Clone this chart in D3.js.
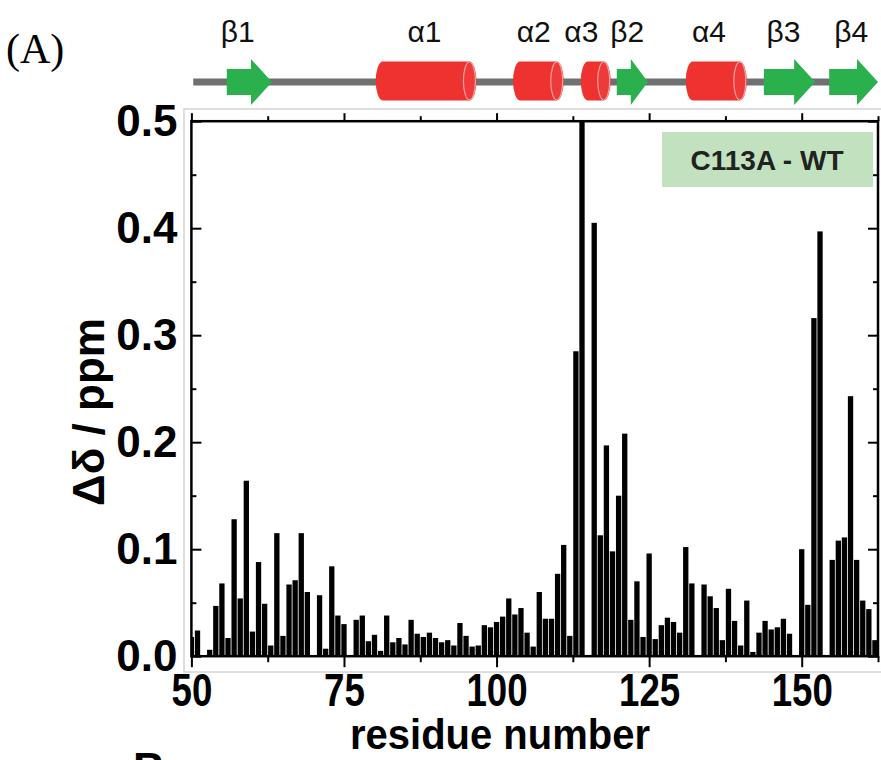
<!DOCTYPE html>
<html>
<head>
<meta charset="utf-8">
<script src="https://cdn.jsdelivr.net/npm/d3@7"></script>
<style>
  body { margin: 0; background: #fff; }
  svg { display: block; }
</style>
</head>
<body>
<div id="chart"></div>
<script>
// residue numbers and chemical shift differences (ppm), C113A - WT
const residues = d3.range(50, 163);
const shifts = [
  0.018, 0.024, 0.0, 0.006, 0.047, 0.068, 0.017, 0.128, 0.054, 0.164, // 50-59
  0.023, 0.088, 0.049, 0.010, 0.115, 0.019, 0.067, 0.071, 0.115, 0.060, // 60-69
  0.0, 0.057, 0.007, 0.084, 0.038, 0.030, 0.0, 0.034, 0.038, 0.014,     // 70-79
  0.020, 0.005, 0.038, 0.013, 0.017, 0.011, 0.034, 0.021, 0.018, 0.022, // 80-89
  0.017, 0.013, 0.015, 0.010, 0.031, 0.019, 0.009, 0.010, 0.029, 0.027, // 90-99
  0.032, 0.037, 0.054, 0.039, 0.045, 0.022, 0.009, 0.060, 0.035, 0.035, // 100-109
  0.077, 0.104, 0.019, 0.285, 0.52, 0.0, 0.405, 0.113, 0.197, 0.098,    // 110-119
  0.150, 0.208, 0.034, 0.070, 0.018, 0.096, 0.016, 0.029, 0.036, 0.032, // 120-129
  0.022, 0.102, 0.068, 0.0, 0.067, 0.056, 0.045, 0.015, 0.063, 0.033,   // 130-139
  0.010, 0.052, 0.004, 0.022, 0.033, 0.025, 0.027, 0.035, 0.021, 0.0,   // 140-149
  0.100, 0.048, 0.316, 0.397, 0.0, 0.090, 0.108, 0.111, 0.243, 0.090,   // 150-159
  0.052, 0.044, 0.015                                                   // 160-162
];

// secondary structure (residue ranges)
const ssNames = ["β1", "α1", "α2", "α3", "β2", "α4", "β3", "β4"];
const ssTypes = ["strand", "helix", "helix", "helix", "strand", "helix", "strand", "strand"];
const ssStart = [55.8, 80.2, 102.7, 113.8, 119.7, 131.0, 143.8, 154.5];
const ssEnd = [63.2, 96.7, 111.0, 118.7, 124.8, 141.0, 152.2, 162.5];
const ssLabelAt = [57.6, 88.2, 106.1, 113.9, 121.4, 134.8, 147.0, 158.1];

const xMajor = [50, 75, 100, 125, 150];
const xMinor = [62.5, 87.5, 112.5, 137.5, 162.5];
const yMajor = [0, 0.1, 0.2, 0.3, 0.4, 0.5];
const yMinor = [0.05, 0.15, 0.25, 0.35, 0.45];

const width = 881;
const height = 760;
const plot = { left: 191.4, right: 878, top: 121.2, bottom: 656.2 };
const boldFont = "'Liberation Sans', Arial, Helvetica, sans-serif";

const x = d3.scaleLinear().domain([50, 162.5]).range([plot.left, plot.right]);
const y = d3.scaleLinear().domain([0, 0.5]).range([plot.bottom, plot.top]);

const svg = d3
  .select("#chart")
  .append("svg")
  .attr("width", width)
  .attr("height", height)
  .style("font-family", boldFont);

// faint panel border
svg
  .append("rect")
  .attr("x", 184)
  .attr("y", 109)
  .attr("width", 720)
  .attr("height", 563)
  .attr("fill", "none")
  .attr("stroke", "#d4d4d4")
  .attr("stroke-width", 1.5);

svg
  .append("clipPath")
  .attr("id", "clip")
  .append("rect")
  .attr("x", plot.left)
  .attr("y", plot.top)
  .attr("width", plot.right - plot.left)
  .attr("height", plot.bottom - plot.top);

// bars
const barW = (x(1) - x(0)) * 0.87;
svg
  .append("g")
  .attr("clip-path", "url(#clip)")
  .selectAll("rect")
  .data(residues.map((r, i) => ({ r, v: shifts[i] })))
  .join("rect")
  .attr("x", (d) => x(d.r) - barW / 2)
  .attr("y", (d) => y(d.v))
  .attr("width", barW)
  .attr("height", (d) => y(0) - y(d.v))
  .attr("fill", "#000");

// axes
const axisStyle = (g) => {
  g.select(".domain").remove();
  g.selectAll("line").attr("stroke", "#000").attr("stroke-width", 2);
  g.selectAll("text")
    .attr("fill", "#000")
    .style("font-family", boldFont)
    .style("font-weight", "bold");
};

svg
  .append("g")
  .attr("transform", `translate(0,${plot.bottom})`)
  .call(d3.axisBottom(x).tickValues(xMajor).tickSize(11).tickPadding(5).tickFormat(d3.format("d")))
  .call(axisStyle)
  .call((g) =>
    g.selectAll("text").style("font-size", "47px").attr("transform", "scale(0.78,1)")
  );
svg
  .append("g")
  .attr("transform", `translate(0,${plot.bottom})`)
  .call(d3.axisBottom(x).tickValues(xMinor).tickSize(6).tickFormat(""))
  .call(axisStyle);

// top ticks (outward)
svg
  .append("g")
  .attr("transform", `translate(0,${plot.top})`)
  .call(d3.axisTop(x).tickValues(xMajor).tickSize(8).tickFormat(""))
  .call(axisStyle);
svg
  .append("g")
  .attr("transform", `translate(0,${plot.top})`)
  .call(d3.axisTop(x).tickValues(xMinor).tickSize(5).tickFormat(""))
  .call(axisStyle);

svg
  .append("g")
  .attr("transform", `translate(${plot.left},0)`)
  .call(d3.axisLeft(y).tickValues(yMajor).tickSize(-10).tickPadding(14).tickFormat(d3.format(".1f")))
  .call(axisStyle)
  .call((g) => g.selectAll("text").style("font-size", "44px"));
svg
  .append("g")
  .attr("transform", `translate(${plot.left},0)`)
  .call(d3.axisLeft(y).tickValues(yMinor).tickSize(-5).tickFormat(""))
  .call(axisStyle);

svg
  .append("g")
  .attr("transform", `translate(${plot.right},0)`)
  .call(d3.axisRight(y).tickValues(yMajor).tickSize(-10).tickFormat(""))
  .call(axisStyle);
svg
  .append("g")
  .attr("transform", `translate(${plot.right},0)`)
  .call(d3.axisRight(y).tickValues(yMinor).tickSize(-5).tickFormat(""))
  .call(axisStyle);

// frame
svg
  .append("rect")
  .attr("x", plot.left)
  .attr("y", plot.top)
  .attr("width", plot.right - plot.left)
  .attr("height", plot.bottom - plot.top)
  .attr("fill", "none")
  .attr("stroke", "#000")
  .attr("stroke-width", 2.5);

// axis titles
svg
  .append("text")
  .attr("transform", "translate(500,749) scale(0.93,1)")
  .attr("text-anchor", "middle")
  .style("font-size", "43px")
  .style("font-weight", "bold")
  .text("residue number");

svg
  .append("text")
  .attr("transform", "translate(104,412) rotate(-90)")
  .attr("text-anchor", "middle")
  .style("font-size", "44px")
  .style("font-weight", "bold")
  .text("Δδ / ppm");

// legend box
svg
  .append("rect")
  .attr("x", 662)
  .attr("y", 132)
  .attr("width", 211)
  .attr("height", 55)
  .attr("fill", "#c2e2bf");
svg
  .append("text")
  .attr("x", 767)
  .attr("y", 170)
  .attr("text-anchor", "middle")
  .style("font-size", "28px")
  .style("font-weight", "bold")
  .attr("fill", "#222")
  .text("C113A - WT");

// secondary structure track
const ssY = 82;
const ssG = svg.append("g");
ssG
  .append("line")
  .attr("x1", x(50.3))
  .attr("x2", x(161))
  .attr("y1", ssY)
  .attr("y2", ssY)
  .attr("stroke", "#6f7072")
  .attr("stroke-width", 7);

const ss = ssNames.map((name, i) => ({
  name,
  type: ssTypes[i],
  x0: x(ssStart[i]),
  x1: x(ssEnd[i]),
  lx: x(ssLabelAt[i]),
}));

ss.filter((d) => d.type === "helix").forEach((d) => {
  const rx = 7;
  const ry = 19.5;
  const t = ssY - ry - 1;
  const b = ssY + ry - 1;
  ssG
    .append("path")
    .attr(
      "d",
      `M${d.x0 + rx},${t} L${d.x1 - rx},${t} A${rx},${ry} 0 0 1 ${d.x1 - rx},${b} ` +
        `L${d.x0 + rx},${b} A${rx},${ry} 0 0 1 ${d.x0 + rx},${t} Z`
    )
    .attr("fill", "#ed3230");
  ssG
    .append("ellipse")
    .attr("cx", d.x1 - rx)
    .attr("cy", (t + b) / 2)
    .attr("rx", rx - 1)
    .attr("ry", ry - 0.5)
    .attr("fill", "#ee3a38")
    .attr("stroke", "#f6a0a0")
    .attr("stroke-width", 1.2);
});

ss.filter((d) => d.type === "strand").forEach((d) => {
  const headL = Math.min(21, (d.x1 - d.x0) * 0.55);
  const tailH = 13;
  const headH = 23;
  const hx = d.x1 - headL;
  ssG
    .append("path")
    .attr(
      "d",
      `M${d.x0},${ssY - tailH} L${hx},${ssY - tailH} L${hx},${ssY - headH} L${d.x1},${ssY} ` +
        `L${hx},${ssY + headH} L${hx},${ssY + tailH} L${d.x0},${ssY + tailH} Z`
    )
    .attr("fill", "#2bb04e");
});

ssG
  .selectAll("text.ss")
  .data(ss)
  .join("text")
  .attr("class", "ss")
  .attr("x", (d) => d.lx)
  .attr("y", 42)
  .attr("text-anchor", "middle")
  .style("font-size", "30px")
  .attr("fill", "#111")
  .text((d) => d.name);

// panel letters
svg
  .append("text")
  .attr("x", 6)
  .attr("y", 63)
  .style("font-family", "'Liberation Serif', 'Times New Roman', serif")
  .style("font-size", "42px")
  .text("(A)");

svg
  .append("text")
  .attr("x", 133)
  .attr("y", 784)
  .style("font-size", "44px")
  .style("font-weight", "bold")
  .text("B");
</script>
</body>
</html>
